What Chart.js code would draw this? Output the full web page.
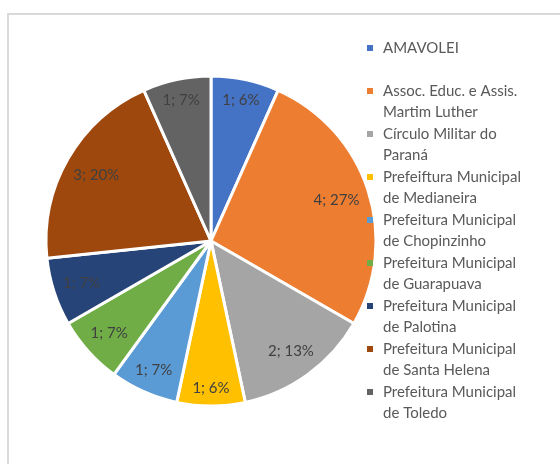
<!DOCTYPE html>
<html><head><meta charset="utf-8">
<script src="https://cdn.jsdelivr.net/npm/chart.js@4/dist/chart.umd.min.js"></script>
<style>html,body{margin:0;padding:0;background:#fff}canvas{display:block}</style>
</head><body>
<canvas id="c" width="560" height="464"></canvas>
<script>
const categories = [
  ["AMAVOLEI"],
  ["Assoc. Educ. e Assis.", "Martim Luther"],
  ["Círculo Militar do", "Paraná"],
  ["Prefeiftura Municipal", "de Medianeira"],
  ["Prefeitura Municipal", "de Chopinzinho"],
  ["Prefeitura Municipal", "de Guarapuava"],
  ["Prefeitura Municipal", "de Palotina"],
  ["Prefeitura Municipal", "de Santa Helena"],
  ["Prefeitura Municipal", "de Toledo"]
];
const values = [1, 4, 2, 1, 1, 1, 1, 3, 1];
const percentLabels = ["6%", "27%", "13%", "6%", "7%", "7%", "7%", "20%", "7%"];
const colors = ["#4472C4", "#ED7D31", "#A5A5A5", "#FFC000", "#5B9BD5", "#70AD47", "#264478", "#9E480E", "#636363"];

const FONT = "15px Lato, 'Open Sans', sans-serif";

const framePlugin = {
  id: 'frame',
  beforeDraw(chart) {
    const ctx = chart.ctx;
    ctx.save();
    ctx.fillStyle = '#fff';
    ctx.fillRect(0, 0, chart.width, chart.height);
    ctx.strokeStyle = '#D9D9D9';
    ctx.lineWidth = 2;
    ctx.strokeRect(8, 14, 700, 600);
    ctx.restore();
  }
};

const labelPlugin = {
  id: 'sliceLabels',
  afterDatasetsDraw(chart) {
    const ctx = chart.ctx;
    const ds = chart.data.datasets[0];
    const meta = chart.getDatasetMeta(0);
    ctx.save();
    ctx.font = FONT;
    ctx.fillStyle = '#404040';
    ctx.textAlign = 'center';
    ctx.textBaseline = 'middle';
    meta.data.forEach((arc, i) => {
      const p = arc.getProps(['x', 'y', 'startAngle', 'endAngle', 'outerRadius'], true);
      const mid = (p.startAngle + p.endAngle) / 2;
      const text = ds.data[i] + '; ' + percentLabels[i];
      const w = ctx.measureText(text).width, h = 14;
      const lim = p.outerRadius - 9;
      let d = p.outerRadius;
      for (; d > 0; d -= 0.5) {
        const cx = Math.cos(mid) * d, cy = Math.sin(mid) * d;
        let ok = true;
        for (const sx of [-1, 1]) for (const sy of [-1, 1]) {
          if (Math.hypot(cx + sx * w / 2, cy + sy * h / 2) > lim) ok = false;
        }
        if (ok) break;
      }
      ctx.fillText(text, p.x + Math.cos(mid) * d, p.y + Math.sin(mid) * d);
    });
    ctx.restore();
  }
};

const legendPlugin = {
  id: 'sideLegend',
  afterDraw(chart) {
    const ctx = chart.ctx;
    const ds = chart.data.datasets[0];
    ctx.save();
    ctx.font = FONT;
    ctx.textBaseline = 'middle';
    chart.data.labels.forEach((lab, i) => {
      const y0 = 48 + i * 43;
      ctx.fillStyle = ds.backgroundColor[i];
      ctx.fillRect(367, y0 - 3, 6, 6);
      ctx.fillStyle = '#595959';
      lab.forEach((line, j) => ctx.fillText(line, 383, y0 + j * 21.5));
    });
    ctx.restore();
  }
};

new Chart(document.getElementById('c'), {
  type: 'pie',
  data: {
    labels: categories,
    datasets: [{
      data: values,
      backgroundColor: colors,
      borderColor: '#FFFFFF',
      borderWidth: 3
    }]
  },
  options: {
    responsive: false,
    animation: false,
    radius: 165,
    layout: { padding: { left: 39, top: 69, right: 177, bottom: 51 } },
    plugins: { legend: { display: false }, tooltip: { enabled: false } }
  },
  plugins: [framePlugin, labelPlugin, legendPlugin]
});
</script>
</body></html>
